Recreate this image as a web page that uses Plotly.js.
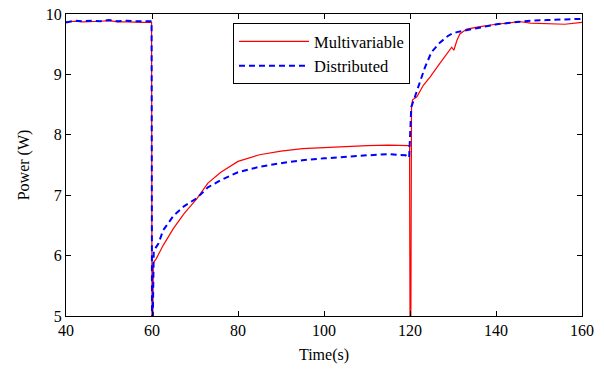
<!DOCTYPE html>
<html>
<head>
<meta charset="utf-8">
<script src="https://cdn.plot.ly/plotly-3.0.1.min.js"></script>
<style>html,body{margin:0;padding:0;background:#fff;}#chart{width:604px;height:372px;}</style>
</head>
<body>
<div id="chart"></div>
<script>
// Multivariable (red, solid)
const multiTime = [40, 42, 44, 46, 48, 50, 52, 54, 56, 58, 59.9, 60.0, 60.2, 60.3, 61, 62.6, 65, 67.5, 70.4, 73, 76, 80, 85, 90, 95, 100, 105, 110, 115, 119.7, 119.9, 120.0, 120.2, 120.35, 120.6, 121.6, 123.1, 124.7, 126.6, 128.5, 129.7, 130.2, 130.9, 131.6, 133.2, 136.3, 140, 144, 145, 148, 152, 156, 160];
const multiPower = [9.87, 9.88, 9.87, 9.87, 9.88, 9.89, 9.87, 9.87, 9.86, 9.86, 9.86, 5.0, 5.0, 5.88, 5.95, 6.17, 6.45, 6.7, 6.94, 7.2, 7.38, 7.56, 7.67, 7.73, 7.77, 7.79, 7.81, 7.82, 7.83, 7.82, 7.8, 5.0, 5.0, 8.45, 8.58, 8.63, 8.82, 8.96, 9.15, 9.34, 9.45, 9.40, 9.56, 9.67, 9.75, 9.79, 9.83, 9.86, 9.88, 9.85, 9.84, 9.83, 9.86];
// Distributed (blue, dashed)
const distTime = [40, 42, 44, 46, 48, 50, 52, 54, 56, 58, 59.9, 60.0, 60.2, 60.4, 61.5, 62.6, 64, 65, 67.5, 70.4, 73, 76, 80, 85, 90, 95, 100, 105, 110, 115, 119, 119.8, 120.3, 121, 122.3, 123.5, 125, 127, 128.9, 129.7, 130.9, 133.2, 136.3, 140.2, 144, 148, 152, 156, 160];
const distPower = [9.86, 9.89, 9.88, 9.89, 9.88, 9.9, 9.88, 9.89, 9.88, 9.88, 9.88, 5.0, 5.0, 6.08, 6.2, 6.42, 6.57, 6.66, 6.82, 6.95, 7.13, 7.25, 7.38, 7.47, 7.53, 7.58, 7.61, 7.64, 7.66, 7.68, 7.66, 7.62, 8.46, 8.6, 8.87, 9.12, 9.37, 9.53, 9.64, 9.67, 9.70, 9.73, 9.77, 9.83, 9.86, 9.89, 9.9, 9.91, 9.92];
const xTicks = [40, 60, 80, 100, 120, 140, 160];
const yTicks = [5, 6, 7, 8, 9, 10];

const serif = "'Liberation Serif', 'Times New Roman', serif";
const traces = [
  {x: multiTime, y: multiPower, type: 'scatter', mode: 'lines', name: 'Multivariable',
   line: {color: '#ff0000', width: 1.2}},
  {x: distTime, y: distPower, type: 'scatter', mode: 'lines', name: 'Distributed',
   line: {color: '#0000ff', width: 2, dash: '6px,4px'}}
];
const axisCommon = {
  showgrid: false, zeroline: false, showline: true, linecolor: '#000', linewidth: 1,
  mirror: 'ticks', ticks: 'inside', ticklen: 5, tickcolor: '#000',
  tickfont: {family: serif, size: 16, color: '#000'}
};
const layout = {
  width: 604, height: 372,
  margin: {l: 66, r: 22, t: 14, b: 56},
  paper_bgcolor: '#fff', plot_bgcolor: '#fff',
  showlegend: true,
  legend: {x: 0.3236, y: 0.97, xanchor: 'left', yanchor: 'top',
           bgcolor: '#fff', bordercolor: '#000', borderwidth: 1,
           font: {family: serif, size: 16.5, color: '#000'}, itemwidth: 70,
           tracegroupgap: 0},
  xaxis: Object.assign({}, axisCommon, {range: [40, 160], tickvals: xTicks,
    title: {text: 'Time(s)', font: {family: serif, size: 16, color: '#000'}, standoff: 10}}),
  yaxis: Object.assign({}, axisCommon, {range: [5, 10], tickvals: yTicks,
    title: {text: 'Power (W)', font: {family: serif, size: 16, color: '#000'}, standoff: 12}})
};
Plotly.newPlot('chart', traces, layout, {displayModeBar: false, staticPlot: true});
</script>
</body>
</html>
